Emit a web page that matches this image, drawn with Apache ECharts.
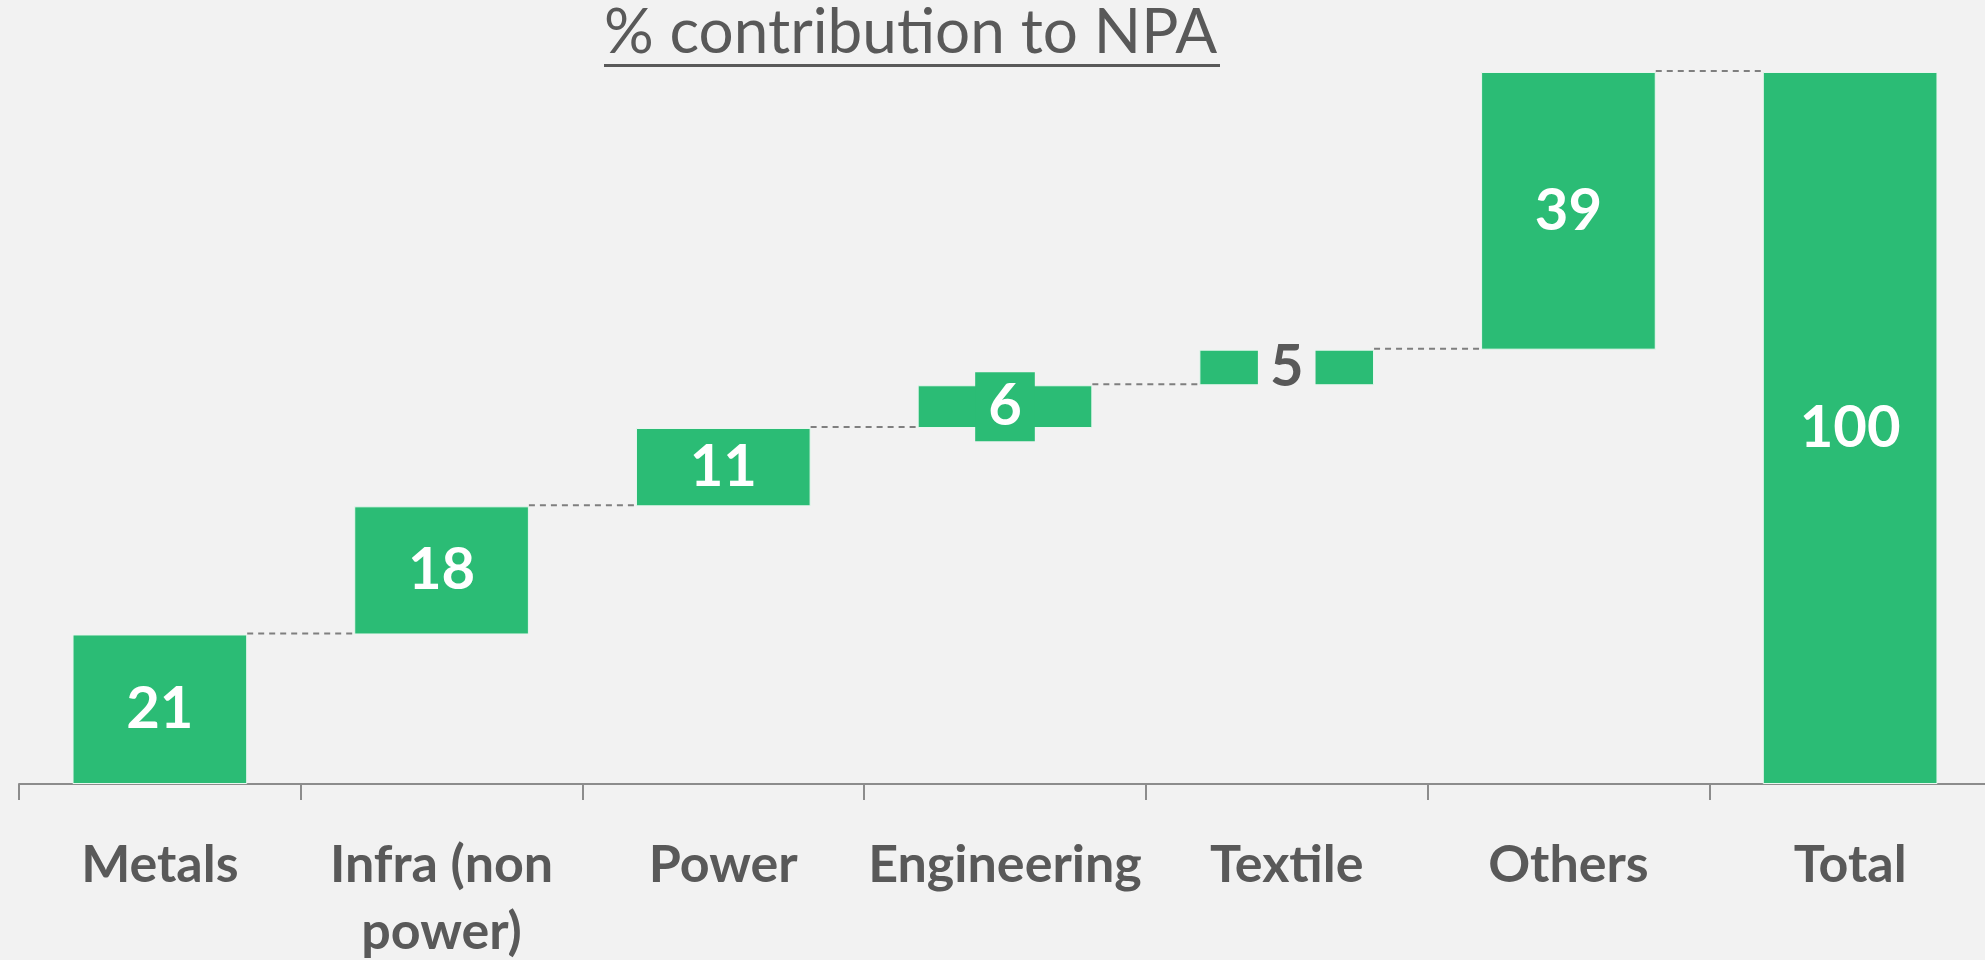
<!DOCTYPE html>
<html>
<head>
<meta charset="utf-8">
<script src="https://cdn.jsdelivr.net/npm/echarts@6/dist/echarts.min.js"></script>
<style>
  html, body { margin: 0; padding: 0; background: #f2f2f2; }
  #chart { width: 1985px; height: 960px; }
</style>
</head>
<body>
<div id="chart"></div>
<script>
// data
var categories = ['Metals', 'Infra (non\npower)', 'Power', 'Engineering', 'Textile', 'Others', 'Total'];
var values = [21, 18, 11, 6, 5, 39, 100];

var green = '#2bbc75';
var textGrey = '#595959';

// invisible base for the floating bars (running total, total bar starts at 0)
var base = [];
var tops = [];
var run = 0;
for (var i = 0; i < values.length; i++) {
    if (i === values.length - 1) {
        base.push(0);
        tops.push(values[i]);
    } else {
        base.push(run);
        run += values[i];
        tops.push(run);
    }
}

// connector data: [index, level at top of bar i]
var links = [];
for (var j = 0; j < values.length - 1; j++) {
    links.push([j, tops[j]]);
}

var barData = values.map(function (v, idx) {
    var item = { value: v };
    if (categories[idx] === 'Engineering') {
        item.label = { backgroundColor: green, padding: [7, 13, 4, 13] };
    }
    if (categories[idx] === 'Textile') {
        item.label = { color: textGrey, backgroundColor: '#f2f2f2', padding: [0, 12] };
    }
    return item;
});

var chart = echarts.init(document.getElementById('chart'));

var option = {
    backgroundColor: '#f2f2f2',
    animation: false,
    graphic: [{
        type: 'text',
        left: 604,
        top: 2,
        style: {
            text: '% contribution to NPA',
            fill: textGrey,
            font: 'normal 62px Lato'
        }
    }, {
        type: 'rect',
        left: 604,
        top: 64,
        shape: { width: 616, height: 3 },
        style: { fill: textGrey }
    }],
    grid: {
        left: 19,
        right: -6,
        top: 72,
        bottom: 176,
        outerBoundsMode: 'none',
        containLabel: false
    },
    xAxis: {
        type: 'category',
        data: categories,
        axisLine: { lineStyle: { color: '#8c8c8c', width: 2 } },
        axisTick: { show: true, inside: false, length: 16, lineStyle: { color: '#8c8c8c', width: 2 } },
        axisLabel: {
            color: textGrey,
            fontFamily: 'Lato',
            fontWeight: 'bold',
            fontSize: 52,
            lineHeight: 67,
            margin: 48,
            interval: 0
        }
    },
    yAxis: {
        type: 'value',
        min: 0,
        max: 100,
        show: false,
        splitLine: { show: false }
    },
    series: [{
        type: 'bar',
        stack: 'w',
        data: base,
        barWidth: '62%',
        itemStyle: { color: 'transparent' },
        silent: true
    }, {
        type: 'bar',
        stack: 'w',
        data: barData,
        barWidth: '62%',
        itemStyle: { color: green, borderColor: '#e9f7ef', borderWidth: 1 },
        label: {
            show: true,
            position: 'inside',
            color: '#ffffff',
            fontFamily: 'Lato',
            fontWeight: 'bold',
            fontSize: 58
        }
    }, {
        type: 'custom',
        data: links,
        silent: true,
        z: 1,
        renderItem: function (params, api) {
            var idx = api.value(0);
            var level = api.value(1);
            var half = api.size([1, 0])[0] * 0.62 / 2;
            var p1 = api.coord([idx, level]);
            var p2 = api.coord([idx + 1, level]);
            return {
                type: 'line',
                shape: { x1: p1[0] + half, y1: p1[1] - 1, x2: p2[0] - half, y2: p2[1] - 1 },
                style: { stroke: '#7f7f7f', lineWidth: 2, lineDash: [6, 5] }
            };
        }
    }]
};

chart.setOption(option);
</script>
</body>
</html>
